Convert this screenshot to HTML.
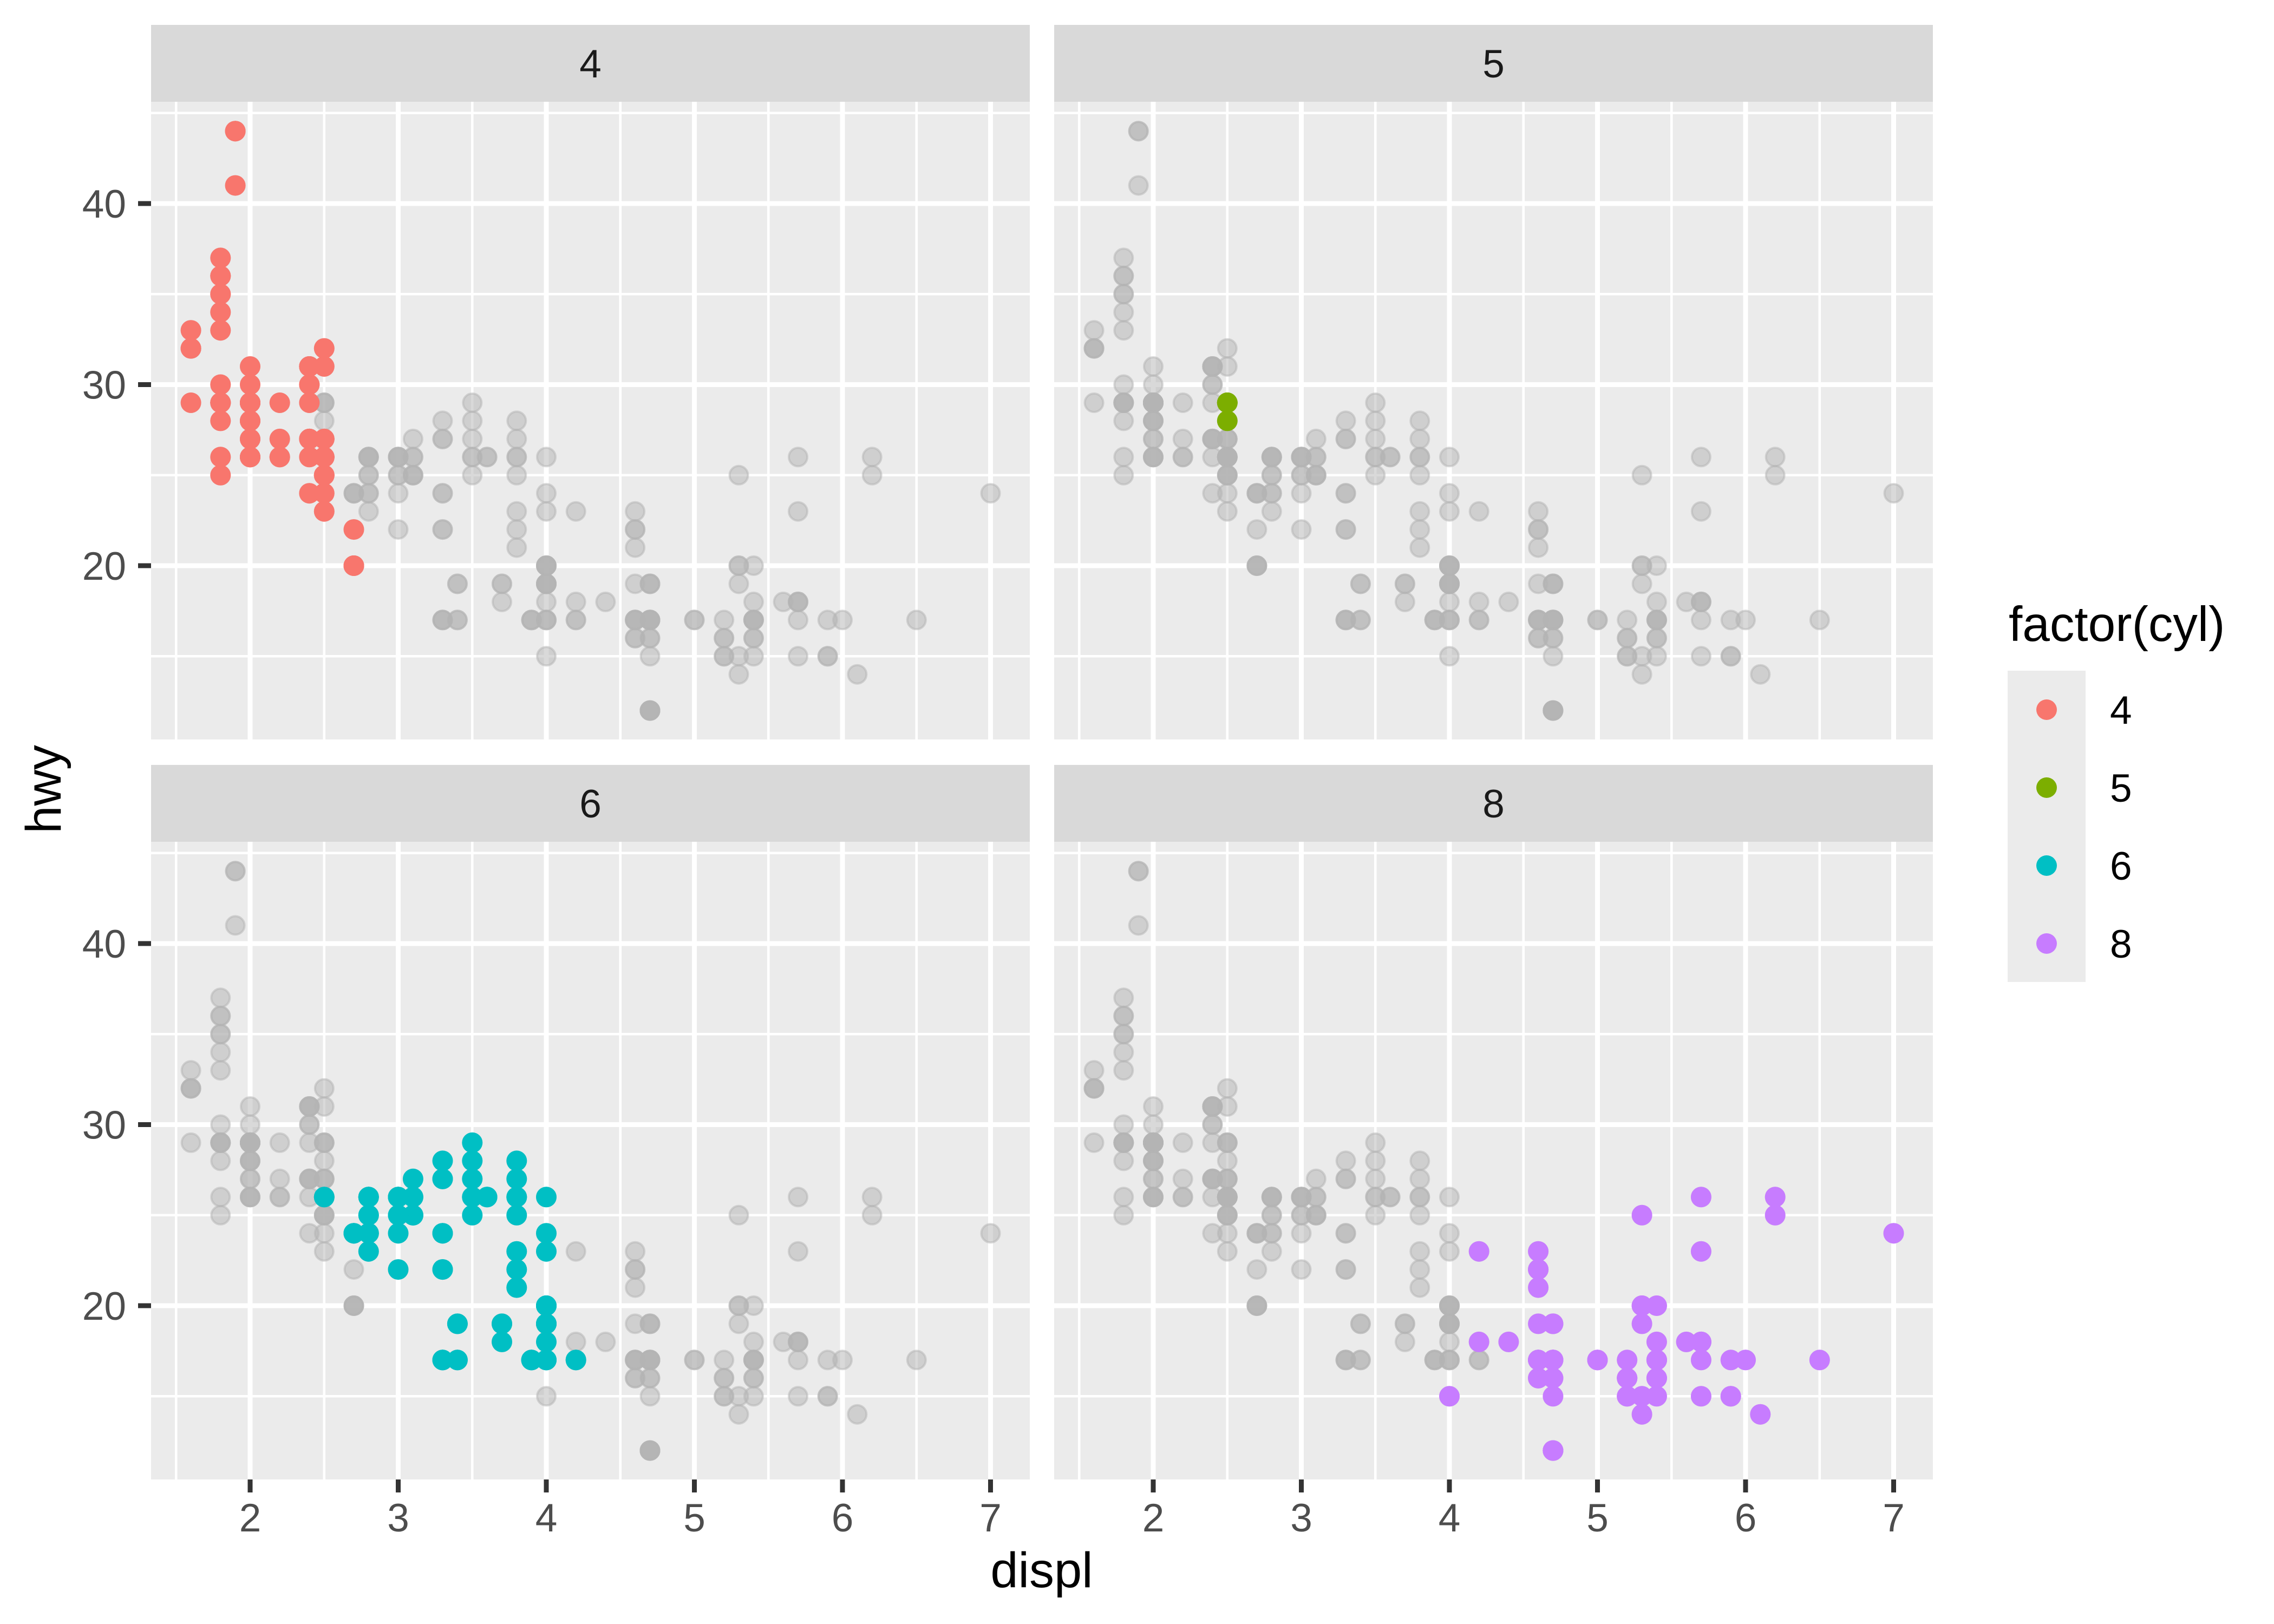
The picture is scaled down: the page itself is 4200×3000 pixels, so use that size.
<!DOCTYPE html>
<html><head><meta charset="utf-8">
<style>
html,body{margin:0;padding:0;background:#fff;}
svg{display:block;}
text{font-family:"Liberation Sans",Arial,sans-serif;}
</style></head>
<body>
<svg id="s" xmlns="http://www.w3.org/2000/svg" width="4200" height="3000" viewBox="0 0 4200 3000"></svg>
<script>
const D="1.8,29,4;1.8,29,4;2,31,4;2,30,4;2.8,26,6;2.8,26,6;3.1,27,6;1.8,26,4;1.8,25,4;2,28,4;2,27,4;2.8,25,6;2.8,25,6;3.1,25,6;3.1,25,6;2.8,24,6;3.1,25,6;4.2,23,8;"+
"5.3,20,8;5.3,15,8;5.3,20,8;5.7,17,8;6,17,8;5.7,26,8;5.7,23,8;6.2,26,8;6.2,25,8;7,24,8;5.3,19,8;5.3,14,8;5.7,15,8;6.5,17,8;2.4,27,4;2.4,30,4;3.1,26,6;3.5,29,6;3.6,26,6;"+
"2.4,24,4;3,24,6;3.3,22,6;3.3,22,6;3.3,24,6;3.3,24,6;3.3,17,6;3.8,22,6;3.8,21,6;3.8,23,6;4,23,6;3.7,19,6;3.7,18,6;3.9,17,6;3.9,17,6;4.7,19,8;4.7,19,8;4.7,12,8;5.2,17,8;5.2,15,8;"+
"3.9,17,6;4.7,17,8;4.7,12,8;4.7,17,8;5.2,16,8;5.7,18,8;5.9,15,8;4.7,16,8;4.7,12,8;4.7,17,8;4.7,17,8;4.7,16,8;4.7,12,8;5.2,15,8;5.2,16,8;5.9,17,8;5.9,15,8;"+
"4.6,17,8;5.4,17,8;5.4,18,8;4,17,6;4,19,6;4,17,6;4,19,6;4.6,19,8;5,17,8;4.2,17,6;4.2,17,6;4.6,16,8;4.6,16,8;4.6,17,8;5.4,15,8;5.4,17,8;5.4,16,8;3.8,26,6;3.8,25,6;4,26,6;4,24,6;4.6,21,8;4.6,22,8;4.6,23,8;4.6,22,8;5.4,20,8;"+
"1.6,33,4;1.6,32,4;1.6,32,4;1.6,29,4;1.6,32,4;1.8,34,4;1.8,36,4;1.8,36,4;2,29,4;"+
"2.4,26,4;2.4,27,4;2.4,30,4;2.4,31,4;2.5,26,6;2.5,26,6;3.3,28,6;2,26,4;2,29,4;2,28,4;2,27,4;2.7,24,6;2.7,24,6;2.7,24,6;"+
"3,22,6;3.7,19,6;4,20,6;4.7,17,8;4.7,12,8;4.7,19,8;5.7,18,8;6.1,14,8;4,15,8;4.2,18,8;4.4,18,8;4.6,17,8;5.4,16,8;5.4,17,8;5.4,17,8;4,19,6;4,20,6;4.6,17,8;5,17,8;"+
"2.4,29,4;2.4,27,4;2.5,31,4;2.5,32,4;3.5,27,6;3.5,26,6;3.5,26,6;3,25,6;3,25,6;3.5,25,6;3.3,17,6;3.3,17,6;4,20,6;5.6,18,8;"+
"3.1,26,6;3.8,26,6;3.8,27,6;3.8,28,6;5.3,25,8;"+
"2.5,25,4;2.5,24,4;2.5,27,4;2.5,25,4;2.5,26,4;2.5,23,4;2.5,26,4;2.5,26,4;2.5,26,4;2.5,26,4;2.5,25,4;2.5,27,4;2.5,25,4;2.5,27,4;"+
"2.7,20,4;2.7,20,4;3.4,19,6;3.4,17,6;4,20,6;4,17,6;2.2,26,4;2.2,29,4;2.4,27,4;2.4,31,4;3,26,6;3,26,6;3.5,28,6;2.2,26,4;2.2,27,4;2.4,31,4;2.4,31,4;3,26,6;3,26,6;3.3,27,6;3.3,27,6;"+
"1.8,30,4;1.8,33,4;1.8,35,4;1.8,37,4;1.8,35,4;4.7,15,8;5.7,18,8;2.7,20,4;2.7,20,4;2.7,22,4;3.4,17,6;3.4,19,6;4,19,6;4,18,6;4,20,6;4,19,6;"+
"2,29,4;2,26,4;2,29,4;2.8,24,6;1.9,44,4;2,29,4;2,26,4;2,29,4;2,29,4;2.5,29,5;2.5,29,5;2.8,23,6;1.9,44,4;1.9,41,4;2,29,4;2,26,4;2,28,4;2,29,4;2.5,29,5;2.5,28,5;"+
"1.8,29,4;1.8,29,4;1.8,28,4;2,29,4;2,28,4;2,29,4;2.8,26,6;2.8,26,6;3.6,26,6";
const pts=D.split(";").map(s=>s.split(",").map(Number));
const col={4:"#F8766D",5:"#7CAE00",6:"#00BFC4",8:"#C77CFF"};
let h="";
const panels=[{c:4,x0:279,y0:188,lab:"4"},{c:5,x0:1947,y0:188,lab:"5"},{c:6,x0:279,y0:1555,lab:"6"},{c:8,x0:1947,y0:1555,lab:"8"}];
const W=1623,H=1178;
panels.forEach((p,i)=>{
  const X=v=>p.x0+183+(v-2)*273.5;
  const Y=v=>p.y0+188+(40-v)*33.45;
  h+=`<rect x="${p.x0}" y="${p.y0-142}" width="${W}" height="142" fill="#d9d9d9"/>`;
  h+=`<text x="${p.x0+W/2}" y="${p.y0-71+26}" font-size="73" fill="#1a1a1a" text-anchor="middle">${p.lab}</text>`;
  h+=`<rect x="${p.x0}" y="${p.y0}" width="${W}" height="${H}" fill="#ebebeb"/>`;
  h+=`<clipPath id="c${i}"><rect x="${p.x0}" y="${p.y0}" width="${W}" height="${H}"/></clipPath><g clip-path="url(#c${i})">`;
  [15,25,35,45].forEach(v=>h+=`<line x1="${p.x0}" x2="${p.x0+W}" y1="${Y(v)}" y2="${Y(v)}" stroke="#fff" stroke-width="4.6"/>`);
  [1.5,2.5,3.5,4.5,5.5,6.5].forEach(v=>h+=`<line y1="${p.y0}" y2="${p.y0+H}" x1="${X(v)}" x2="${X(v)}" stroke="#fff" stroke-width="4.6"/>`);
  [20,30,40].forEach(v=>h+=`<line x1="${p.x0}" x2="${p.x0+W}" y1="${Y(v)}" y2="${Y(v)}" stroke="#fff" stroke-width="9"/>`);
  [2,3,4,5,6,7].forEach(v=>h+=`<line y1="${p.y0}" y2="${p.y0+H}" x1="${X(v)}" x2="${X(v)}" stroke="#fff" stroke-width="9"/>`);
  pts.forEach(d=>h+=`<circle cx="${X(d[0]).toFixed(1)}" cy="${Y(d[1]).toFixed(1)}" r="17" fill="#b3b3b3" fill-opacity="0.5" stroke="#b3b3b3" stroke-opacity="0.5" stroke-width="4"/>`);
  pts.filter(d=>d[2]==p.c).forEach(d=>h+=`<circle cx="${X(d[0]).toFixed(1)}" cy="${Y(d[1]).toFixed(1)}" r="19" fill="${col[p.c]}"/>`);
  h+=`</g>`;
  if(i%2==0){[20,30,40].forEach(v=>{h+=`<line x1="${p.x0-24}" x2="${p.x0}" y1="${Y(v)}" y2="${Y(v)}" stroke="#333" stroke-width="9"/>`;
    h+=`<text x="${p.x0-46}" y="${Y(v)+26}" font-size="73" fill="#4d4d4d" text-anchor="end">${v}</text>`;});}
  if(i>=2){[2,3,4,5,6,7].forEach(v=>{h+=`<line y1="${p.y0+H}" y2="${p.y0+H+24}" x1="${X(v)}" x2="${X(v)}" stroke="#333" stroke-width="9"/>`;
    h+=`<text x="${X(v)}" y="2829" font-size="73" fill="#4d4d4d" text-anchor="middle">${v}</text>`;});}
});
h+=`<text x="1924" y="2932" font-size="92" fill="#000" text-anchor="middle">displ</text>`;
h+=`<text transform="translate(112,1458) rotate(-90)" font-size="92" fill="#000" text-anchor="middle">hwy</text>`;
h+=`<text x="3710" y="1184" font-size="91" fill="#000">factor(cyl)</text>`;
h+=`<rect x="3708" y="1239" width="144" height="575" fill="#ebebeb"/>`;
[4,5,6,8].forEach((c,k)=>{const y=1311+k*144;
  h+=`<circle cx="3780" cy="${y}" r="19" fill="${col[c]}"/>`;
  h+=`<text x="3897" y="${y+26}" font-size="73" fill="#000">${c}</text>`;});
document.getElementById("s").innerHTML=h;
</script>
</body></html>
